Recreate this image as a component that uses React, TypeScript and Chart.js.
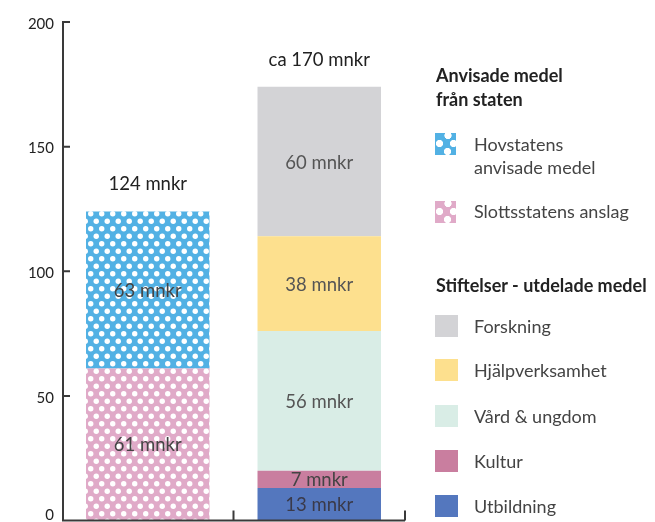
import React, { useEffect, useRef } from "react";
import { Chart, registerables } from "chart.js";

Chart.register(...registerables);

const categories = ["Anvisade medel från staten", "Stiftelser - utdelade medel"];
const slottsstatensAnslag = [61, null];
const hovstatensMedel = [63, null];
const utbildning = [null, 13];
const kultur = [null, 7];
const vardUngdom = [null, 56];
const hjalpverksamhet = [null, 38];
const forskning = [null, 60];
const totalLabels = ["124 mnkr", "ca 170 mnkr"];
const yTicks = [0, 50, 100, 150, 200];

const FONT = "Lato, 'Open Sans', sans-serif";

const COLORS = {
  hov: "#52b1e4",
  slott: "#e0aac8",
  forskning: "#d3d3d6",
  hjalp: "#fde08e",
  vard: "#d9ede6",
  kultur: "#c97e9f",
  utbildning: "#5477be",
};

function dotPattern(color: string): CanvasPattern | string {
  const c = document.createElement("canvas");
  c.width = 11;
  c.height = 15;
  const g = c.getContext("2d");
  if (!g) return color;
  g.fillStyle = color;
  g.fillRect(0, 0, 11, 15);
  g.fillStyle = "#ffffff";
  g.beginPath();
  g.arc(2.75, 3.75, 2.7, 0, Math.PI * 2);
  g.fill();
  g.beginPath();
  g.arc(8.25, 11.25, 2.7, 0, Math.PI * 2);
  g.fill();
  const p = g.createPattern(c, "repeat");
  return p || color;
}

const overlayPlugin = {
  id: "overlay",
  afterDatasetsDraw(chart: any) {
    const ctx = chart.ctx as CanvasRenderingContext2D;
    const xs = chart.scales.x;
    const ys = chart.scales.y;
    const area = chart.chartArea;
    ctx.save();
    ctx.textAlign = "center";
    ctx.textBaseline = "middle";
    // segment labels
    chart.data.datasets.forEach((ds: any, di: number) => {
      const meta = chart.getDatasetMeta(di);
      meta.data.forEach((bar: any, i: number) => {
        const v = ds.data[i];
        if (v == null) return;
        const p = bar.getProps(["x", "y", "base"], true);
        ctx.font = `18.5px ${FONT}`;
        ctx.fillStyle = ds.labelColor || "#555";
        ctx.fillText(`${v} mnkr`, p.x, (p.y + p.base) / 2 + 1);
      });
    });
    // totals
    categories.forEach((_, i) => {
      let total = 0;
      chart.data.datasets.forEach((ds: any) => {
        const v = ds.data[i];
        if (v != null) total += v;
      });
      ctx.font = `18.5px ${FONT}`;
      ctx.fillStyle = "#222";
      ctx.fillText(totalLabels[i], xs.getPixelForValue(i), ys.getPixelForValue(total) - 27);
    });
    // y tick labels
    ctx.textAlign = "right";
    ctx.font = `15px ${FONT}`;
    ctx.fillStyle = "#222";
    yTicks.forEach((v) => {
      const py = ys.getPixelForValue(v);
      ctx.fillText(String(v), area.left - 8, Math.min(py + 2, area.bottom - 5));
    });
    // axes
    ctx.strokeStyle = "#3a3a3a";
    ctx.lineWidth = 2;
    ctx.lineCap = "butt";
    const x0 = area.left + 1;
    const yTop = ys.getPixelForValue(yTicks[yTicks.length - 1]);
    const yBot = ys.getPixelForValue(0);
    ctx.beginPath();
    ctx.moveTo(x0, yTop - 1);
    ctx.lineTo(x0, yBot);
    ctx.moveTo(x0 - 1, yBot);
    ctx.lineTo(area.right, yBot);
    yTicks.forEach((v) => {
      const py = ys.getPixelForValue(v);
      ctx.moveTo(x0, py);
      ctx.lineTo(x0 + 7, py);
    });
    for (let i = 0; i < categories.length; i++) {
      const px = xs.getPixelForValue(i + 0.5);
      ctx.moveTo(px, yBot);
      ctx.lineTo(px, yBot - 10);
    }
    ctx.stroke();
    ctx.restore();
  },
};

function Swatch({ fill, dotted }: { fill: string; dotted?: boolean }) {
  const dot = (x: number, y: number) =>
    `radial-gradient(circle at ${x}px ${y}px, #fff 3.3px, transparent 3.9px)`;
  const bg = dotted
    ? `${dot(13, 2.5)}, ${dot(4.5, 10.5)}, ${dot(18.5, 10.5)}, ${dot(12.5, 18.5)}, ${fill}`
    : fill;
  return <div style={{ width: dotted ? 21 : 23, height: 22, background: bg }} />;
}

export default function App() {
  const ref = useRef<HTMLCanvasElement>(null);

  useEffect(() => {
    if (!ref.current) return;
    const common = { barPercentage: 0.72, categoryPercentage: 1, borderWidth: 0 };
    const chart = new Chart(ref.current, {
      type: "bar",
      data: {
        labels: categories,
        datasets: [
          { label: "Slottsstatens anslag", data: slottsstatensAnslag, backgroundColor: dotPattern(COLORS.slott), labelColor: "#444", ...common } as any,
          { label: "Hovstatens anvisade medel", data: hovstatensMedel, backgroundColor: dotPattern(COLORS.hov), labelColor: "#444", ...common } as any,
          { label: "Utbildning", data: utbildning, backgroundColor: COLORS.utbildning, labelColor: "#3a3a4a", ...common } as any,
          { label: "Kultur", data: kultur, backgroundColor: COLORS.kultur, labelColor: "#444", ...common } as any,
          { label: "Vård & ungdom", data: vardUngdom, backgroundColor: COLORS.vard, ...common } as any,
          { label: "Hjälpverksamhet", data: hjalpverksamhet, backgroundColor: COLORS.hjalp, ...common } as any,
          { label: "Forskning", data: forskning, backgroundColor: COLORS.forskning, ...common } as any,
        ],
      },
      options: {
        responsive: false,
        animation: false,
        layout: { padding: { top: 22, right: 250, bottom: 1.5, left: 0 } },
        plugins: { legend: { display: false }, tooltip: { enabled: false } },
        scales: {
          x: {
            stacked: true,
            grid: { display: false },
            border: { display: false },
            ticks: { display: false },
            afterFit: (s: any) => {
              s.height = 0;
            },
          },
          y: {
            stacked: true,
            min: 0,
            max: 200,
            afterBuildTicks: (s: any) => {
              s.ticks = yTicks.map((v) => ({ value: v }));
            },
            ticks: { display: false },
            grid: { display: false },
            border: { display: false },
            afterFit: (s: any) => {
              s.width = 62;
            },
          },
        },
      },
      plugins: [overlayPlugin],
    });
    return () => chart.destroy();
  }, []);

  const head: React.CSSProperties = {
    position: "absolute",
    left: 436,
    font: `bold 18px ${FONT}`,
    color: "#222",
    lineHeight: "24px",
    whiteSpace: "nowrap",
  };
  const itemText: React.CSSProperties = {
    position: "absolute",
    left: 474,
    font: `18px ${FONT}`,
    color: "#444",
    lineHeight: "23px",
    whiteSpace: "nowrap",
  };
  const sw = (top: number): React.CSSProperties => ({ position: "absolute", left: 435, top });

  const items = [
    { label: "Forskning", color: COLORS.forskning, y: 326 },
    { label: "Hjälpverksamhet", color: COLORS.hjalp, y: 370 },
    { label: "Vård & ungdom", color: COLORS.vard, y: 416 },
    { label: "Kultur", color: COLORS.kultur, y: 461 },
    { label: "Utbildning", color: COLORS.utbildning, y: 506 },
  ];

  return (
    <div style={{ position: "fixed", left: 0, top: 0, width: 655, height: 522, background: "#fff" }}>
      <canvas ref={ref} width={655} height={522} style={{ position: "absolute", left: 0, top: 0 }} />
      <div style={{ ...head, top: 63 }}>
        Anvisade medel
        <br />
        från staten
      </div>
      <div style={sw(133)}>
        <Swatch fill={COLORS.hov} dotted />
      </div>
      <div style={{ ...itemText, top: 133 }}>
        Hovstatens
        <br />
        anvisade medel
      </div>
      <div style={sw(201)}>
        <Swatch fill={COLORS.slott} dotted />
      </div>
      <div style={{ ...itemText, top: 200 }}>Slottsstatens anslag</div>
      <div style={{ ...head, top: 273 }}>Stiftelser - utdelade medel</div>
      {items.map((it) => (
        <React.Fragment key={it.label}>
          <div style={sw(it.y - 11)}>
            <Swatch fill={it.color} />
          </div>
          <div style={{ ...itemText, top: it.y - 11.5 }}>{it.label}</div>
        </React.Fragment>
      ))}
    </div>
  );
}
